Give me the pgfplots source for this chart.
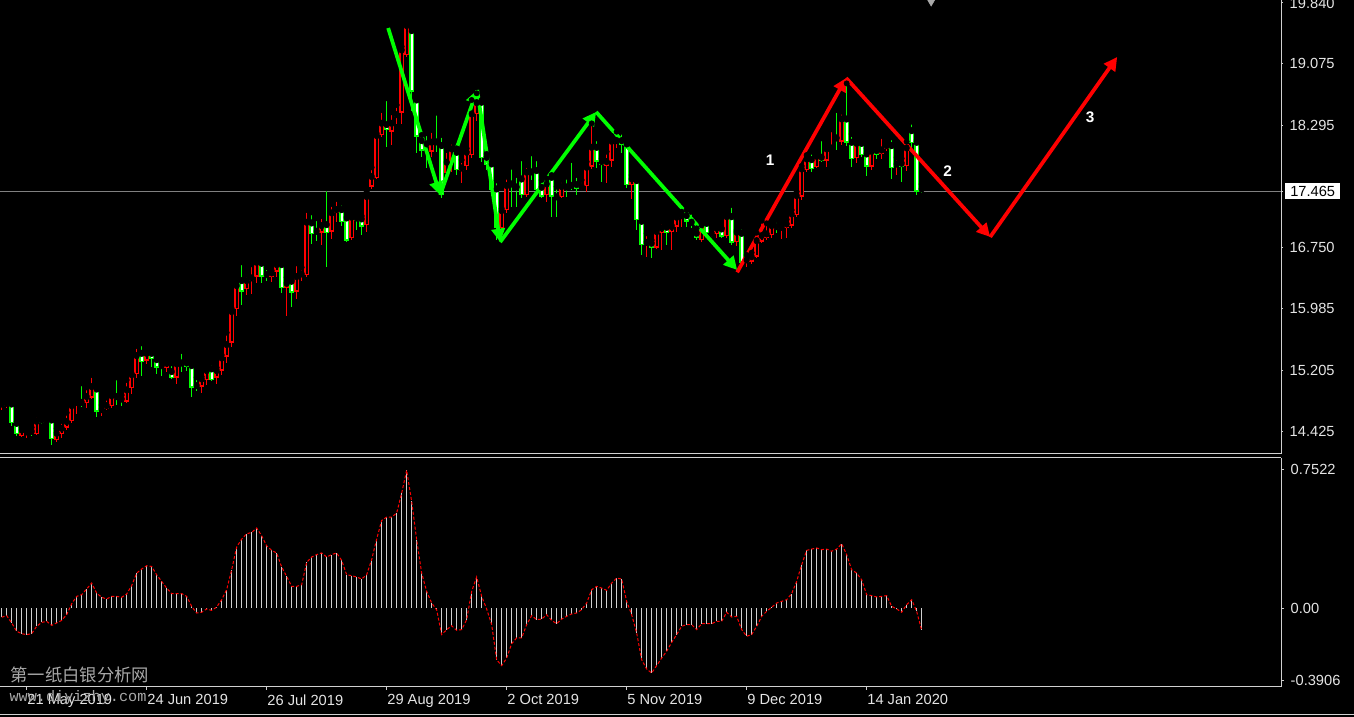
\documentclass[border=0pt]{standalone}
\usepackage{pgfplots}
\pgfplotsset{compat=1.18}
\usepackage{pgfplotstable}
\usepackage{fontspec}
\setmainfont{Liberation Sans}
\newfontfamily\cjk{Noto Sans CJK SC}
\newfontfamily\wwwfont{Liberation Mono}
\usetikzlibrary{arrows.meta}

\definecolor{bull}{HTML}{FF0000}
\definecolor{bear}{HTML}{00FF00}
\definecolor{fg}{HTML}{E4E4E4}
\definecolor{axline}{HTML}{D0D0D0}
\definecolor{hist}{HTML}{D0D0D0}
\definecolor{pline}{HTML}{808080}
\definecolor{wm}{HTML}{A8A8A8}
\newcommand\ticks{\fontsize{11}{13}\selectfont}

% daily candles, k = bar number (0 = 14 May 2019)
\pgfplotstableread{
k O H L C
0 14.764 14.848 14.701 14.785
1 14.751 14.848 14.722 14.793
4 14.373 14.478 14.356 14.457
5 14.419 14.469 14.343 14.432
7 14.398 14.638 14.385 14.566
9 14.545 14.608 14.533 14.583
11 14.322 14.469 14.301 14.415
12 14.394 14.562 14.343 14.478
13 14.478 14.667 14.448 14.562
14 14.562 14.815 14.533 14.764
15 14.777 14.848 14.646 14.806
17 14.785 14.987 14.722 14.878
18 14.857 15.143 14.836 15.004
20 14.680 14.764 14.625 14.714
21 14.714 14.857 14.701 14.764
22 14.751 14.924 14.722 14.890
25 14.806 15.080 14.785 14.962
26 14.974 15.164 14.899 15.155
27 15.151 15.509 15.101 15.395
29 15.324 15.458 15.277 15.425
33 15.228 15.320 15.186 15.299
35 15.110 15.312 15.026 15.291
40 14.996 15.122 14.912 15.101
41 15.080 15.270 15.017 15.207
43 15.110 15.236 15.026 15.207
44 15.198 15.396 15.143 15.366
45 15.375 15.678 15.291 15.535
46 15.552 15.985 15.501 15.952
47 15.973 16.343 15.888 16.280
49 16.225 16.414 16.154 16.343
50 16.335 16.541 16.166 16.377
51 16.385 16.629 16.309 16.574
54 16.385 16.461 16.322 16.440
55 16.448 16.595 16.385 16.545
57 16.246 16.377 15.888 16.309
59 16.196 16.553 16.099 16.393
60 16.406 16.503 16.335 16.427
61 16.406 17.227 16.380 17.079
64 16.941 17.151 16.785 17.037
66 16.953 17.303 16.856 17.197
67 17.185 17.366 17.079 17.239
70 16.869 17.176 16.848 17.143
73 17.037 17.458 16.953 17.404
74 17.521 17.765 17.488 17.656
75 17.627 18.195 17.614 18.174
76 18.174 18.489 18.153 18.329
78 18.216 18.460 18.047 18.329
79 18.405 18.552 18.313 18.439
80 18.456 19.289 18.313 19.255
81 19.184 19.626 19.163 19.563
86 17.963 18.237 17.900 18.090
89 17.690 17.984 17.648 17.837
90 17.837 18.089 17.711 18.005
92 17.723 17.858 17.563 17.765
93 17.782 18.005 17.732 17.963
94 17.921 18.615 17.879 18.447
95 18.440 18.700 18.350 18.590
100 16.995 17.248 16.953 17.227
101 17.227 17.647 17.185 17.542
105 17.416 17.795 17.395 17.711
109 17.416 17.626 17.332 17.563
112 17.386 17.605 17.374 17.530
116 17.500 17.605 17.479 17.530
117 17.529 17.836 17.460 17.773
118 17.773 18.320 17.750 18.026
121 17.786 17.963 17.563 17.845
122 17.849 18.160 17.773 18.102
123 18.068 18.215 18.005 18.110
126 17.542 17.668 17.361 17.626
129 16.784 16.932 16.637 16.826
131 16.751 16.974 16.734 16.961
132 16.932 17.079 16.721 17.007
134 16.944 17.037 16.721 17.024
135 17.016 17.163 16.953 17.142
136 17.129 17.205 17.016 17.163
140 16.847 17.091 16.818 17.049
143 16.919 17.024 16.868 17.003
145 16.898 17.192 16.868 17.150
147 16.818 16.974 16.772 16.953
149 16.553 16.658 16.511 16.604
150 16.574 16.688 16.544 16.645
151 16.637 16.940 16.616 16.847
152 16.826 17.091 16.805 16.911
153 16.868 17.058 16.847 16.932
154 16.911 17.079 16.868 17.037
156 16.982 17.058 16.856 17.016
157 16.995 17.108 16.868 17.058
158 17.028 17.226 16.995 17.184
159 17.163 17.458 17.142 17.415
160 17.394 17.782 17.352 17.752
161 17.731 17.920 17.710 17.878
163 17.765 17.942 17.752 17.912
165 17.849 18.068 17.773 18.005
166 17.992 18.245 17.975 18.017
168 18.089 18.468 18.047 18.383
171 17.878 18.110 17.815 18.076
174 17.773 18.005 17.731 17.975
176 17.929 18.160 17.866 17.992
177 17.992 18.110 17.975 18.047
179 17.782 17.891 17.668 17.815
181 17.782 18.089 17.723 18.017
}\bulltab

\pgfplotstableread{
k O H L C
2 14.785 14.815 14.503 14.533
3 14.541 14.554 14.373 14.394
6 14.440 14.482 14.373 14.427
8 14.583 14.596 14.524 14.533
10 14.583 14.596 14.259 14.331
16 14.806 15.038 14.743 14.793
19 14.974 14.987 14.608 14.680
23 14.878 15.113 14.764 14.836
24 14.848 14.890 14.751 14.819
28 15.425 15.543 15.130 15.307
30 15.425 15.492 15.240 15.341
31 15.345 15.353 15.151 15.235
32 15.270 15.299 15.131 15.257
34 15.194 15.291 15.089 15.101
36 15.303 15.446 15.186 15.291
37 15.303 15.320 15.198 15.249
38 15.270 15.320 14.870 14.983
39 15.017 15.114 14.946 14.996
42 15.228 15.299 15.072 15.080
48 16.343 16.566 16.027 16.196
52 16.562 16.629 16.309 16.385
53 16.419 16.503 16.335 16.377
56 16.545 16.553 16.175 16.238
58 16.335 16.351 16.006 16.183
62 17.071 17.197 16.793 16.924
63 16.966 17.122 16.840 16.953
65 17.050 17.500 16.511 16.932
68 17.239 17.319 17.025 17.071
69 17.134 17.143 16.827 16.840
71 17.134 17.185 16.974 17.092
72 17.122 17.151 16.911 17.016
77 18.313 18.637 18.026 18.237
82 19.499 19.563 18.481 18.721
83 18.624 18.666 17.951 18.153
84 18.111 18.174 17.900 17.976
85 18.069 18.195 17.753 18.026
87 18.094 18.456 17.963 18.081
88 18.047 18.174 17.374 17.416
91 17.963 18.005 17.668 17.732
96 18.595 18.615 17.837 17.879
97 17.900 17.934 17.732 17.795
98 17.816 17.840 17.400 17.479
99 17.500 17.600 16.850 17.000
102 17.563 17.774 17.269 17.530
103 17.525 17.668 17.269 17.515
104 17.626 17.879 17.374 17.416
106 17.715 17.942 17.605 17.705
107 17.732 17.879 17.437 17.479
108 17.521 17.605 17.374 17.395
110 17.647 17.668 17.142 17.395
111 17.400 17.521 17.142 17.390
113 17.525 17.647 17.395 17.517
114 17.545 17.858 17.479 17.538
115 17.555 17.668 17.416 17.488
119 18.026 18.131 17.752 17.836
120 17.845 17.878 17.584 17.794
124 18.110 18.215 17.942 18.047
125 18.068 18.089 17.500 17.542
127 17.605 17.655 16.974 17.100
128 17.092 17.100 16.658 16.784
130 16.814 16.847 16.616 16.742
133 17.016 17.037 16.784 16.932
137 17.163 17.226 17.016 17.079
138 17.080 17.205 16.995 17.070
139 16.940 16.995 16.847 16.868
141 17.066 17.079 16.890 16.932
142 16.940 16.995 16.890 16.910
144 16.995 17.000 16.868 16.890
146 17.150 17.289 16.784 16.814
148 16.940 17.016 16.511 16.553
155 17.024 17.100 16.932 16.982
162 17.870 17.963 17.710 17.740
164 17.900 18.131 17.836 17.849
167 18.144 18.489 17.984 18.118
169 18.383 18.825 18.034 18.076
170 18.089 18.186 17.773 17.866
172 18.076 18.089 17.900 17.920
173 17.942 18.005 17.655 17.773
175 17.984 18.017 17.866 17.921
178 18.047 18.144 17.613 17.752
180 17.824 17.878 17.584 17.773
182 18.236 18.342 17.984 18.068
183 18.089 18.110 17.416 17.458
184 17.500 17.554 17.437 17.465
}\beartab

\pgfplotstableread{
k v
0 -0.050
1 -0.041
2 -0.081
3 -0.126
4 -0.139
5 -0.144
6 -0.139
7 -0.099
8 -0.078
9 -0.072
10 -0.094
11 -0.081
12 -0.067
13 -0.036
14 0.023
15 0.063
16 0.072
17 0.103
18 0.135
19 0.081
20 0.058
21 0.049
22 0.063
23 0.063
24 0.058
25 0.076
26 0.121
27 0.189
28 0.211
29 0.229
30 0.225
31 0.180
32 0.144
33 0.108
34 0.078
35 0.078
36 0.078
37 0.063
38 0.009
39 -0.027
40 -0.023
41 -0.005
42 -0.013
43 0.005
44 0.045
45 0.099
46 0.207
47 0.330
48 0.373
49 0.402
50 0.409
51 0.433
52 0.391
53 0.337
54 0.312
55 0.298
56 0.222
57 0.171
58 0.117
59 0.117
60 0.126
61 0.247
62 0.276
63 0.289
64 0.298
65 0.276
66 0.289
67 0.298
68 0.258
69 0.180
70 0.175
71 0.168
72 0.157
73 0.180
74 0.262
75 0.373
76 0.474
77 0.492
78 0.492
79 0.514
80 0.622
81 0.745
82 0.577
83 0.370
84 0.189
85 0.090
86 0.027
87 -0.010
88 -0.144
89 -0.117
90 -0.096
91 -0.121
92 -0.117
93 -0.063
94 0.090
95 0.168
96 0.063
97 -0.005
98 -0.090
99 -0.280
100 -0.312
101 -0.271
102 -0.193
103 -0.162
104 -0.162
105 -0.090
106 -0.041
107 -0.063
108 -0.060
109 -0.036
110 -0.067
111 -0.085
112 -0.060
113 -0.045
114 -0.032
115 -0.027
116 -0.009
117 0.027
118 0.099
119 0.117
120 0.108
121 0.096
122 0.135
123 0.162
124 0.157
125 0.036
126 -0.036
127 -0.135
128 -0.280
129 -0.330
130 -0.352
131 -0.312
132 -0.271
133 -0.234
134 -0.186
135 -0.144
136 -0.099
137 -0.090
138 -0.090
139 -0.117
140 -0.085
141 -0.085
142 -0.085
143 -0.072
144 -0.072
145 -0.023
146 -0.049
147 -0.045
148 -0.117
149 -0.153
150 -0.144
151 -0.099
152 -0.045
153 -0.018
154 0.004
155 0.027
156 0.036
157 0.045
158 0.078
159 0.144
160 0.234
161 0.312
162 0.319
163 0.325
164 0.316
165 0.319
166 0.307
167 0.319
168 0.348
169 0.289
170 0.207
171 0.189
172 0.153
173 0.072
174 0.067
175 0.060
176 0.063
177 0.067
178 0.009
179 -0.005
180 -0.023
181 0.018
182 0.045
183 -0.018
184 -0.121
}\osc

\pgfplotsset{
  wick/.style={only marks, mark options={draw=none, fill=none}, forget plot,
    error bars/.cd, y dir=minus, y explicit, error mark=none,
    error bar style={line width=0.75pt, draw=#1}},
  body/.style 2 args={only marks, mark options={draw=none, fill=none}, forget plot,
    error bars/.cd, y dir=minus, y explicit, error mark=none,
    error bar style={line width=#2, draw=#1}},
}

\begin{document}
\begin{tikzpicture}
\path[use as bounding box] (0pt,0pt) rectangle (1015.5pt,537.75pt);
\fill[black] (0pt,0pt) rectangle (1015.5pt,537.75pt);

% price panel
\begin{axis}[
  at={(0pt,537.75pt)}, anchor=north west,
  scale only axis, width=960.75pt, height=340.5pt,
  xmin=-0.334, xmax=255.87, ymin=14.146, ymax=19.878,
  axis x line*=bottom, axis y line*=right,
  axis line style={draw=axline, line width=0.75pt, -},
  xtick=\empty,
  ytick={14.425,15.205,15.985,16.750,18.295,19.075,19.840},
  yticklabels={14.425,15.205,15.985,16.750,18.295,19.075,19.840},
  tick align=outside, major tick length=1.5pt,
  tick style={draw=axline, line width=0.75pt},
  yticklabel style={font=\ticks, text=fg, anchor=west, xshift=1.5pt},
  extra y ticks={17.465}, extra y tick labels={17.465},
  extra y tick style={grid=major, major grid style={draw=pline, line width=0.75pt},
    yticklabel style={fill=white, text=black, inner xsep=3.75pt, inner ysep=2.2pt}},
]
\addplot[wick=bull] table[x=k, y=H, y error expr=\thisrow{H}-\thisrow{L}] {\bulltab};
\addplot[body={bull}{3.6pt}] table[x=k, y=C, y error expr={max(\thisrow{C}-\thisrow{O},0.0126)}] {\bulltab};
\addplot[body={black}{1.5pt}] table[x=k, y expr=\thisrow{C}-0.0160, y error expr={max(\thisrow{C}-\thisrow{O}-0.0320,0)}] {\bulltab};

\addplot[wick=bear] table[x=k, y=H, y error expr=\thisrow{H}-\thisrow{L}] {\beartab};
\addplot[body={bear}{3.6pt}] table[x=k, y=O, y error expr={max(\thisrow{O}-\thisrow{C},0.0126)}] {\beartab};
\addplot[body={white}{1.5pt}] table[x=k, y expr=\thisrow{O}-0.0160, y error expr={max(\thisrow{O}-\thisrow{C}-0.0320,0)}] {\beartab};

% wave arrows
\addplot[bear, line width=2.8pt, -{Triangle[length=10pt,width=10pt]}] coordinates {(77.3,19.524) (87.7,17.416)};
\addplot[bear, line width=2.8pt, -{Triangle[length=10pt,width=10pt]}] coordinates {(87.7,17.416) (95.1,18.742)};
\addplot[bear, line width=2.8pt, -{Triangle[length=10pt,width=10pt]}] coordinates {(95.1,18.742) (99.7,16.822)};
\addplot[bear, line width=2.8pt, -{Triangle[length=10pt,width=10pt]}] coordinates {(99.7,16.822) (118.9,18.464)};
\addplot[bear, line width=2.8pt, -{Triangle[length=10pt,width=10pt]}] coordinates {(118.9,18.464) (147.1,16.469)};
\addplot[bull, line width=2.8pt, -{Triangle[length=10pt,width=10pt]}] coordinates {(147.1,16.440) (168.9,18.893)};
\addplot[bull, line width=2.8pt, -{Triangle[length=10pt,width=10pt]}] coordinates {(168.9,18.893) (197.7,16.886)};
\addplot[bull, line width=2.8pt, -{Triangle[length=10pt,width=10pt]}] coordinates {(197.7,16.886) (223.1,19.158)};

\addplot[only marks, mark=triangle*, mark size=3.5pt, mark options={rotate=180, fill=wm, draw=wm}] coordinates {(185.9,19.86)};

\node[text=white, font=\bfseries\fontsize{11.5}{13}\selectfont] at (axis cs:153.7,17.858) {1};
\node[text=white, font=\bfseries\fontsize{11.5}{13}\selectfont] at (axis cs:189.2,17.722) {2};
\node[text=white, font=\bfseries\fontsize{11.5}{13}\selectfont] at (axis cs:217.7,18.400) {3};
\end{axis}

% oscillator panel
\begin{axis}[
  at={(0pt,194.25pt)}, anchor=north west,
  scale only axis, width=960.75pt, height=171.75pt,
  xmin=-0.334, xmax=255.87, ymin=-0.4275, ymax=0.812,
  axis y line*=right, xtick pos=left,
  axis line style={draw=axline, line width=0.75pt, -},
  xtick={5,29,53,77,101,125,149,173},
  xticklabels={21 May 2019,24 Jun 2019,26 Jul 2019,29 Aug 2019,2 Oct 2019,5 Nov 2019,9 Dec 2019,14 Jan 2020},
  ytick={-0.3906,0,0.7522},
  yticklabels={-0.3906,0.00,0.7522},
  tick align=outside, major tick length=2.25pt,
  tick style={draw=axline, line width=0.75pt},
  yticklabel style={font=\ticks, text=fg, anchor=west, xshift=1.5pt},
  xticklabel style={font=\ticks, text=fg, anchor=north west, xshift=-3pt},
]
\addplot[ycomb, draw=hist, line width=0.75pt] table[x=k, y=v] {\osc};
\addplot[bull, line width=0.75pt, dash pattern=on 2.25pt off 1.5pt] table[x=k, y=v] {\osc};
\end{axis}

\begin{scope}[x=0.75pt, y=0.75pt]
\node[text=wm, font=\cjk\fontsize{13}{15}\selectfont] at (80,42) {第一纸白银分析网};
\node[text=wm, font=\wwwfont\fontsize{11.4}{13}\selectfont] at (78,19) {www.diyizhy.com};
\draw[axline, line width=0.75pt] (0,2) -- (1354,2);
\end{scope}
\end{tikzpicture}
\end{document}
